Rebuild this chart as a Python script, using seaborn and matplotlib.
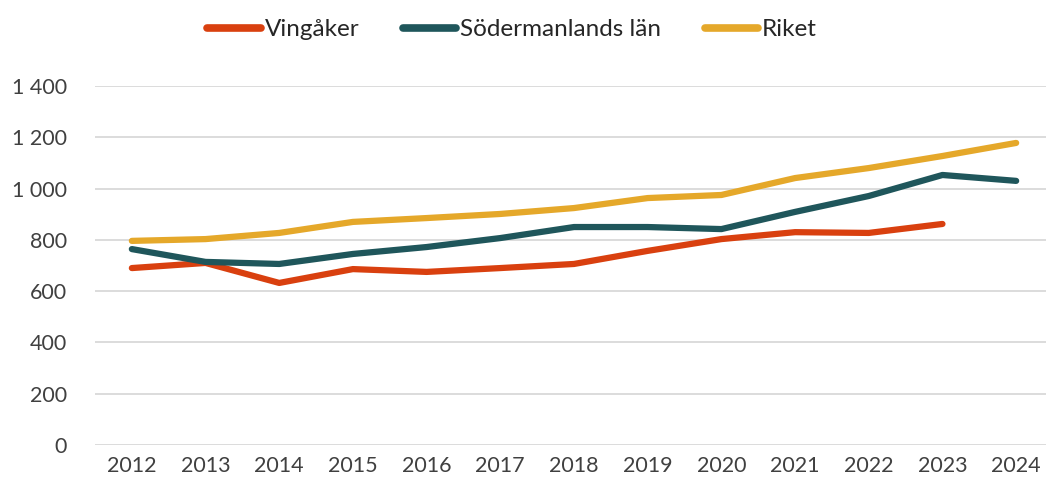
import numpy as np
import pandas as pd
import seaborn as sns
import matplotlib.pyplot as plt
from matplotlib.ticker import FuncFormatter

years = list(range(2012, 2025))
vingaker = [690, 710, 632, 686, 675, 690, 706, 757, 803, 830, 827, 862, np.nan]
sodermanland = [764, 714, 706, 745, 772, 807, 850, 850, 842, 909, 971, 1053, 1030]
riket = [796, 803, 827, 870, 885, 901, 924, 963, 975, 1041, 1080, 1127, 1178]

series = ["Vingåker", "Södermanlands län", "Riket"]
colors = ["#D9400F", "#1F565B", "#E5A82A"]

df = pd.DataFrame({
    "År": [str(y) for y in years] * 3,
    "Värde": vingaker + sodermanland + riket,
    "Serie": [s for s in series for _ in years],
})

sns.set_theme(style="white")
plt.rcParams["font.family"] = ["Lato", "DejaVu Sans"]

fig = plt.figure(figsize=(10.46, 4.86), dpi=100)
ax = fig.add_axes([95 / 1046, 41 / 486, 958 / 1046, 359 / 486])

sns.lineplot(data=df, x="År", y="Värde", hue="Serie", palette=colors,
             hue_order=series, linewidth=4.5, ax=ax, sort=False)
for line in ax.get_lines():
    line.set_solid_capstyle("round")

ax.set_ylim(0, 1400)
ax.set_xlim(-0.5, 12.5)
ax.set_yticks(range(0, 1401, 200))
ax.yaxis.set_major_formatter(FuncFormatter(lambda v, p: f"{int(v):,}".replace(",", " ")))
ax.grid(axis="y", color="#d9d9d9", linewidth=1.3)
ax.set_axisbelow(True)
for s in ax.spines.values():
    s.set_visible(False)
ax.set_xlabel("")
ax.set_ylabel("")
ax.tick_params(axis="both", length=0, labelsize=15.5, labelcolor="#404040", pad=8)
ax.tick_params(axis="y", pad=20)

leg = ax.legend(loc="upper center", bbox_to_anchor=(512 / 1046, 1.005), bbox_transform=fig.transFigure,
                ncol=3, frameon=False, fontsize=17.5, handlelength=2.2, handletextpad=0.15,
                columnspacing=1.8)
for t in leg.get_texts():
    t.set_color("#262626")
for h in leg.get_lines():
    h.set_linewidth(5.5)
    h.set_solid_capstyle("round")

fig.savefig("out.png", dpi=100)
